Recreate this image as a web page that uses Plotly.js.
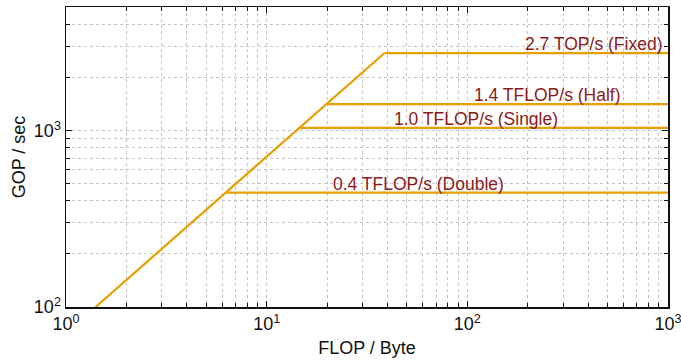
<!DOCTYPE html>
<html>
<head>
<meta charset="utf-8">
<script src="https://cdn.plot.ly/plotly-3.0.1.min.js"></script>
<style>html,body{margin:0;padding:0;background:#fff;}#chart{width:681px;height:362px;}</style>
</head>
<body>
<div id="chart"></div>
<script>
// Roofline values
const peakLabels = ['0.4 TFLOP/s (Double)', '1.0 TFLOP/s (Single)', '1.4 TFLOP/s (Half)', '2.7 TOP/s (Fixed)'];
const peakGops = [446, 1040, 1417, 2765];          // GOP/sec of each compute roof
const ridgeIntensity = [6.28, 14.7, 19.8, 38.7];  // FLOP/Byte where each roof starts
const roofEndIntensity = 1000;
const memIntensity = [1.405, 38.7];                // memory-bound diagonal
const memGops = [100, 2765];
const xTickVals = [1, 10, 100, 1000];
const xTickText = ['10<sup>0</sup>', '10<sup>1</sup>', '10<sup>2</sup>', '10<sup>3</sup>'];
const yTickVals = [100, 1000];
const yTickText = ['10<sup>2</sup>', '10<sup>3</sup>'];
const labelPaperX = [0.586, 0.6806, 0.800, 0.8766];

const lineColor = '#E69F00';
const labelColor = '#8B1A1A';
const font = 'Liberation Sans, Arial, sans-serif';

const traces = [{
  x: memIntensity, y: memGops, mode: 'lines', type: 'scatter',
  line: {color: lineColor, width: 2.2}, hoverinfo: 'skip', showlegend: false
}];
peakGops.forEach((p, i) => {
  traces.push({
    x: [ridgeIntensity[i], roofEndIntensity], y: [p, p], mode: 'lines', type: 'scatter',
    line: {color: lineColor, width: 2.2}, hoverinfo: 'skip', showlegend: false
  });
});

const annotations = peakLabels.map((t, i) => ({
  text: t, xref: 'paper', x: labelPaperX[i], yref: 'y', y: Math.log10(peakGops[i]),
  xanchor: 'center', yanchor: 'middle', yshift: 9, showarrow: false,
  font: {family: font, size: 17.5, color: labelColor}
}));

const axisCommon = {
  type: 'log', showline: true, linecolor: '#111', linewidth: 1.5, mirror: 'ticks',
  ticks: 'inside', ticklen: 6, tickwidth: 1, tickcolor: '#111', tickmode: 'array',
  ticklabeloverflow: 'allow',
  showgrid: true, gridcolor: '#c4c4c4', griddash: 'dot', gridwidth: 1, zeroline: false,
  tickfont: {family: font, size: 18, color: '#111'},
  minor: {dtick: 'D1', ticks: 'inside', ticklen: 4, tickcolor: '#111', showgrid: true,
          gridcolor: '#c4c4c4', griddash: 'dot', gridwidth: 1}
};

const layout = {
  width: 681, height: 362,
  margin: {l: 66, r: 13, t: 7, b: 55},
  paper_bgcolor: '#fff', plot_bgcolor: '#fff',
  showlegend: false,
  xaxis: Object.assign({}, axisCommon, {
    range: [0, 3.0001], tickvals: xTickVals, ticktext: xTickText,
    title: {text: 'FLOP / Byte', font: {family: font, size: 18, color: '#111'}, standoff: 8}
  }),
  yaxis: Object.assign({}, axisCommon, {
    range: [2, 3.703], tickvals: yTickVals, ticktext: yTickText,
    title: {text: 'GOP / sec', font: {family: font, size: 18, color: '#111'}, standoff: 3}
  }),
  annotations: annotations
};

Plotly.newPlot('chart', traces, layout, {staticPlot: true, displayModeBar: false});
</script>
</body>
</html>
